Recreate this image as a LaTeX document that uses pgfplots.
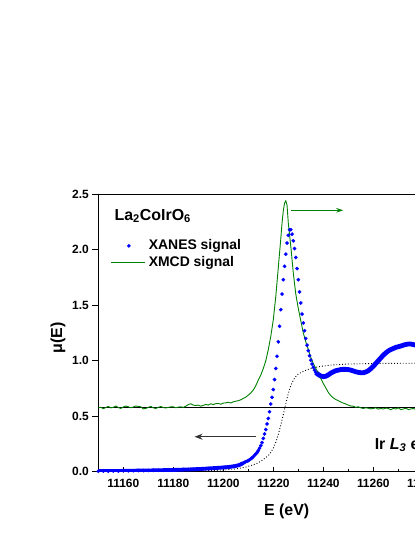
\documentclass[border=0pt]{standalone}
\usepackage{fontspec}
\setmainfont{Liberation Sans}
\usepackage{pgfplots}
\pgfplotsset{compat=1.18}
\usetikzlibrary{arrows.meta}
\definecolor{xblue}{RGB}{0,0,255}
\definecolor{xgreen}{RGB}{0,128,0}
\pgfplotsset{
  dotlegend/.style={legend image code/.code={\draw[mark repeat=2, mark phase=2, ##1]
      plot coordinates {(0bp,0bp) (17.5bp,0bp) (35bp,0bp)};}},
  linelegend/.style={legend image code/.code={\draw[##1] (0bp,0bp) -- (34bp,0bp);}},
}

% XANES, pre-edge part (dense, drawn as a band)
\pgfplotstableread{
E mu
11150 0.005
11152 0.006
11154 0.005
11156 0.007
11158 0.006
11160 0.008
11162 0.008
11164 0.009
11166 0.010
11168 0.010
11170 0.011
11172 0.012
11174 0.013
11176 0.014
11178 0.015
11180 0.016
11182 0.017
11184 0.019
11186 0.020
11188 0.022
11190 0.024
11192 0.026
11194 0.029
11196 0.032
11198 0.035
11200 0.038
11201 0.040
11202 0.042
11203 0.045
11204 0.048
11205 0.052
11206 0.058
11207 0.066
11208 0.078
}\xanespre

% XANES, edge region (0.5 eV step)
\pgfplotstableread{
E mu
11208.5 0.084
11209 0.090
11209.5 0.095
11210 0.100
11210.5 0.108
11211 0.116
11211.5 0.125
11212 0.135
11212.5 0.148
11213 0.160
11213.5 0.172
11214 0.190
11214.5 0.212
11215 0.235
11215.5 0.262
11216 0.300
11216.5 0.340
11217 0.380
11217.5 0.430
11218 0.480
11218.5 0.540
11219 0.610
11219.5 0.670
11220 0.740
11220.5 0.830
11221 0.930
11221.5 1.040
11222 1.170
11222.5 1.310
11223 1.460
11223.5 1.600
11224 1.730
11224.5 1.850
11225 1.960
11225.5 2.060
11226 2.130
11226.5 2.180
11227 2.180
11227.5 2.140
11228 2.080
11228.5 2.010
11229 1.930
11229.5 1.830
11230 1.730
11230.5 1.620
11231 1.520
11231.5 1.420
11232 1.340
11232.5 1.270
11233 1.200
11233.5 1.140
11234 1.090
11234.5 1.045
11235 1.005
11235.5 0.970
11236 0.940
11236.5 0.915
}\xanesedge

% XANES, post-edge part
\pgfplotstableread{
E mu
11237 0.895
11238 0.875
11239 0.862
11240 0.856
11241 0.860
11242 0.872
11243 0.888
11244 0.900
11245 0.910
11246 0.915
11247 0.920
11248 0.922
11249 0.922
11250 0.920
11251 0.915
11252 0.908
11253 0.900
11254 0.895
11255 0.892
11256 0.892
11257 0.898
11258 0.910
11259 0.928
11260 0.950
11261 0.975
11262 1.000
11263 1.025
11264 1.050
11265 1.070
11266 1.088
11267 1.100
11268 1.110
11269 1.120
11270 1.126
11271 1.132
11272 1.140
11273 1.146
11274 1.150
11275 1.150
11276 1.145
11277 1.140
11278 1.135
11280 1.120
11284 1.090
11288 1.060
11292 1.040
11296 1.030
11300 1.025
}\xanespost

% edge step (arctan-like)
\pgfplotstableread{
E mu
11150 0.000
11190 0.005
11200 0.015
11205 0.025
11209 0.042
11212 0.062
11214 0.080
11216 0.110
11218 0.145
11219 0.175
11220 0.210
11221 0.265
11222 0.335
11223 0.420
11224 0.515
11225 0.615
11226 0.705
11227 0.775
11228 0.825
11229 0.858
11230 0.880
11232 0.905
11234 0.922
11236 0.935
11238 0.945
11240 0.952
11244 0.962
11250 0.970
11260 0.975
11280 0.978
11300 0.980
}\steptab

% XMCD (plotted in the left axis units)
\pgfplotstableread{
E mu
11150 0.575
11151 0.580
11152 0.568
11153 0.578
11154 0.588
11155 0.575
11156 0.580
11157 0.592
11158 0.578
11159 0.570
11160 0.583
11161 0.592
11162 0.585
11163 0.576
11164 0.583
11165 0.592
11166 0.588
11167 0.585
11168 0.566
11169 0.570
11170 0.580
11171 0.588
11172 0.575
11173 0.570
11174 0.580
11175 0.587
11176 0.578
11177 0.574
11178 0.580
11179 0.584
11180 0.585
11181 0.576
11182 0.582
11183 0.584
11184 0.580
11185 0.590
11186 0.605
11187 0.612
11188 0.600
11189 0.596
11190 0.600
11191 0.590
11192 0.598
11193 0.606
11194 0.600
11195 0.612
11196 0.605
11197 0.613
11198 0.615
11199 0.608
11200 0.618
11201 0.620
11202 0.626
11203 0.619
11204 0.630
11205 0.635
11206 0.640
11207 0.648
11208 0.660
11209 0.672
11210 0.690
11211 0.710
11212 0.736
11213 0.775
11214 0.826
11215 0.870
11216 0.930
11217 1.000
11218 1.100
11219 1.220
11220 1.370
11221 1.580
11222 1.840
11223 2.100
11223.5 2.240
11224 2.350
11224.5 2.420
11225 2.440
11225.5 2.400
11226 2.240
11227 2.030
11228 1.790
11229 1.600
11230 1.470
11231 1.360
11232 1.250
11233 1.170
11234 1.100
11235 1.030
11236 0.975
11237 0.930
11238 0.885
11239 0.840
11240 0.795
11241 0.755
11242 0.715
11243 0.685
11244 0.665
11245 0.650
11246 0.640
11247 0.628
11248 0.618
11249 0.610
11250 0.600
11251 0.592
11252 0.590
11253 0.580
11254 0.585
11255 0.575
11256 0.570
11257 0.576
11258 0.572
11259 0.566
11260 0.570
11261 0.576
11262 0.564
11263 0.570
11264 0.565
11265 0.573
11266 0.570
11267 0.559
11268 0.570
11269 0.565
11270 0.575
11271 0.560
11272 0.565
11273 0.572
11274 0.560
11275 0.565
11276 0.570
11277 0.560
11278 0.555
11280 0.560
11285 0.555
11290 0.560
11300 0.555
}\xmcd

\begin{document}
\begin{tikzpicture}
\path[use as bounding box] (0,0) rectangle (415bp,537bp);
\clip (0,0) rectangle (415bp,537bp);
\begin{axis}[
    at={(98.3bp,65.3bp)}, anchor=south west,
    scale only axis,
    width=375bp, height=277.5bp,
    xmin=11150, xmax=11300,
    ymin=0, ymax=2.5,
    axis line style={line width=0.8bp},
    tick align=inside,
    major tick length=5bp,
    minor tick length=3bp,
    tick style={black, line width=0.8bp},
    xtick pos=left, ytick pos=left,
    xtick={11160,11180,...,11300},
    xticklabels={11160,11180,11200,11220,11240,11260,11280,11300},
    minor x tick num=1,
    ytick=\empty,
    minor ytick={0.25,0.75,1.25,1.75,2.25},
    extra y ticks={0,0.5,1,1.5,2,2.5},
    extra y tick labels={0.0,0.5,1.0,1.5,2.0,2.5},
    extra y tick style={tick align=outside, major tick length=6bp},
    tick label style={font=\bfseries\fontsize{12}{14}\selectfont},
    xticklabel style={yshift=-4bp},
    xlabel={E (eV)},
    xlabel style={font=\bfseries\fontsize{16}{19}\selectfont,
        at={(axis description cs:0.5024,-0.1416)}, anchor=center},
    ylabel={μ(E)},
    ylabel style={font=\bfseries\fontsize{16}{19}\selectfont,
        at={(axis description cs:-0.1075,0.482)}, anchor=center},
    legend style={at={(axis description cs:0.0331,0.8414)}, anchor=north west,
        draw=none, fill=none, inner sep=0pt, column sep=2bp, row sep=2bp,
        font=\bfseries\fontsize{14}{16}\selectfont,
        nodes={inner sep=1bp, text height=10bp, text depth=3bp}},
    legend cell align=left,
]
% zero line of the XMCD signal
\addplot[black, line width=0.6bp, forget plot] coordinates {(11150,0.577) (11300,0.577)};
% edge step
\addplot[black, dotted, line width=0.9bp, forget plot] table[x=E, y=mu] {\steptab};
% dense XANES parts drawn as a band
\addplot[xblue, line width=3.8bp, forget plot] table[x=E, y=mu] {\xanespre};
\addplot[xblue, line width=4.8bp, forget plot] table[x=E, y=mu] {\xanespost};
% XANES points
\addplot[only marks, mark=*, mark size=1.65bp, xblue, mark options={draw=xblue, fill=xblue},
    dotlegend] table[x=E, y=mu] {\xanesedge};
\addlegendentry{XANES signal}
% XMCD
\addplot[xgreen, line width=0.9bp, linelegend] table[x=E, y=mu] {\xmcd};
\addlegendentry{XMCD signal}
\addplot[only marks, mark=*, mark size=1.65bp, xblue, mark options={draw=xblue, fill=xblue}, forget plot]
    table[x=E, y=mu] {\xanespre};
\addplot[only marks, mark=*, mark size=1.65bp, xblue, mark options={draw=xblue, fill=xblue}, forget plot]
    table[x=E, y=mu] {\xanespost};

\draw[black!80, line width=1.5bp, -{Stealth[length=8bp, width=6bp]}]
    (axis cs:11213,0.315) -- (axis cs:11188.5,0.315);
\draw[xgreen, line width=1bp, -{Stealth[length=7bp, width=4.5bp]}]
    (axis cs:11227,2.355) -- (axis cs:11248,2.355);

\node[anchor=base west, font=\bfseries\fontsize{16}{19}\selectfont]
    at (axis description cs:0.034,0.907) {La\textsubscript{2}CoIrO\textsubscript{6}};
\node[anchor=base west, font=\bfseries\fontsize{16}{19}\selectfont, inner sep=0pt]
    at (axis cs:11260.5,0.202) {Ir \textit{L}\textsubscript{\textit{3}} edge};
\end{axis}
\end{tikzpicture}
\end{document}
